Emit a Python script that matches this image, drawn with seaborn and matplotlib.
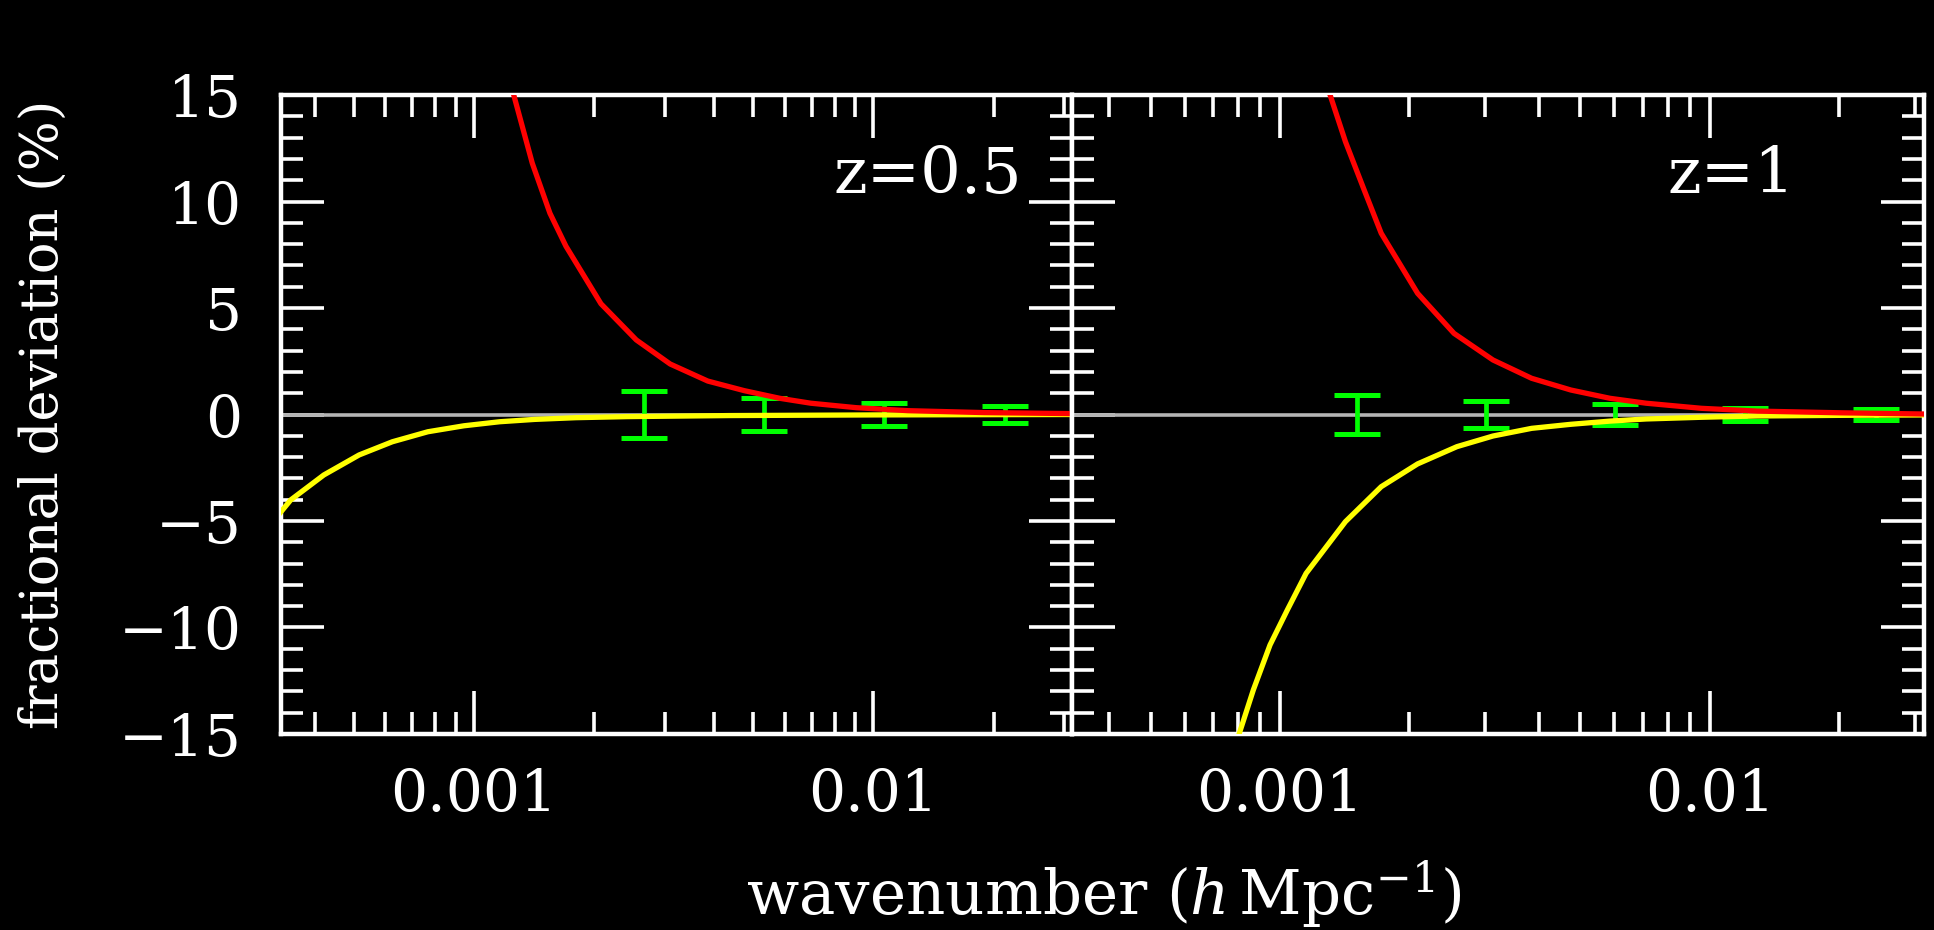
import numpy as np
import pandas as pd
import matplotlib
matplotlib.use('Agg')
import matplotlib.pyplot as plt
import seaborn as sns
from matplotlib.ticker import MultipleLocator, LogLocator, NullFormatter, FixedLocator, FixedFormatter

# z = 0.5 panel
k_red_05 = [0.00115, 0.00140, 0.00155, 0.00170, 0.00208, 0.00255, 0.00310, 0.00385,
            0.00475, 0.00583, 0.00697, 0.00906, 0.0122, 0.0189, 0.0320]
dev_red_05 = [17.7, 11.8, 9.45, 7.9, 5.2, 3.5, 2.37, 1.57, 1.12, 0.76, 0.53, 0.32, 0.18, 0.09, 0.04]
k_yel_05 = [0.000282, 0.000348, 0.000421, 0.000516, 0.000625, 0.000767, 0.000944, 0.00116,
            0.00142, 0.00180, 0.00242, 0.00436, 0.0100, 0.0320]
dev_yel_05 = [-6.1, -4.01, -2.84, -1.90, -1.28, -0.81, -0.53, -0.34, -0.23, -0.15, -0.10, -0.05, -0.02, 0.0]
k_err_05 = [0.00266, 0.00532, 0.0106, 0.0213]
dev_err_05 = [0.0, 0.0, 0.0, 0.0]
sig_err_05 = [1.12, 0.79, 0.55, 0.40]

# z = 1 panel
k_red_1 = [0.00120, 0.00142, 0.00157, 0.00172, 0.00209, 0.00254, 0.00313, 0.00385,
           0.00475, 0.00586, 0.00711, 0.00957, 0.0129, 0.0202, 0.0324]
dev_red_1 = [17.3, 12.81, 10.54, 8.51, 5.69, 3.81, 2.56, 1.70, 1.15, 0.76, 0.53, 0.29, 0.16, 0.08, 0.02]
k_yel_1 = [0.000780, 0.000867, 0.000948, 0.00104, 0.00115, 0.00142, 0.00172, 0.00209, 0.00258,
           0.00313, 0.00385, 0.00475, 0.00586, 0.00711, 0.00957, 0.0129, 0.0202, 0.0324]
dev_yel_1 = [-15.8, -12.93, -10.82, -9.18, -7.46, -5.03, -3.39, -2.32, -1.51, -1.01, -0.65,
             -0.46, -0.31, -0.21, -0.13, -0.07, -0.04, -0.02]
k_err_1 = [0.00151, 0.00301, 0.00603, 0.0121, 0.0243]
dev_err_1 = [0.0, 0.0, 0.0, 0.0, 0.0]
sig_err_1 = [0.90, 0.62, 0.47, 0.30, 0.25]

panel_labels = ['z=0.5', 'z=1']
xtick_vals = [0.001, 0.01]
xtick_labels = ['0.001', '0.01']

sns.set_style('dark', {'axes.facecolor': 'black', 'figure.facecolor': 'black',
                       'axes.edgecolor': 'white', 'text.color': 'white',
                       'xtick.color': 'white', 'ytick.color': 'white',
                       'axes.grid': False})
plt.rcParams['font.family'] = ['DejaVu Serif']
plt.rcParams['mathtext.fontset'] = 'dejavuserif'
plt.rcParams['axes.unicode_minus'] = True

fig, axes = plt.subplots(1, 2, figsize=(19.34, 9.30), dpi=100, sharey=True,
                         gridspec_kw=dict(width_ratios=[792, 852], wspace=0))
fig.subplots_adjust(left=0.1453, right=0.9948, top=0.8978, bottom=0.2108)

panels = [
    (k_red_05, dev_red_05, k_yel_05, dev_yel_05, k_err_05, dev_err_05, sig_err_05, 0.936),
    (k_red_1, dev_red_1, k_yel_1, dev_yel_1, k_err_1, dev_err_1, sig_err_1, 0.849),
]

for i, (ax, p) in enumerate(zip(axes, panels)):
    kr, dr, ky, dy, ke, de, se, xt = p
    ax.set_xscale('log')
    ax.set_facecolor('black')
    ax.axhline(0, color='#b4b4b4', lw=2.6, zorder=1)
    ax.errorbar(ke, de, yerr=se, fmt='none', ecolor='#00ff00', elinewidth=3.4,
                capsize=16.5, capthick=3.6, zorder=2)
    sns.lineplot(x=ky, y=dy, ax=ax, color='#ffff00', lw=3.8, sort=False, zorder=3)
    sns.lineplot(x=kr, y=dr, ax=ax, color='#ff0000', lw=3.8, sort=False, zorder=4)
    ax.set_xlim(3.29e-4, 0.0315)
    ax.set_ylim(-15, 15)
    ax.xaxis.set_major_locator(FixedLocator(xtick_vals))
    ax.xaxis.set_major_formatter(FixedFormatter(xtick_labels))
    ax.xaxis.set_minor_locator(LogLocator(base=10, subs=np.arange(2, 10)))
    ax.xaxis.set_minor_formatter(NullFormatter())
    ax.yaxis.set_major_locator(MultipleLocator(5))
    ax.yaxis.set_minor_locator(MultipleLocator(1))
    ax.tick_params(which='both', direction='in', top=True, right=True, left=True,
                   bottom=True, color='white', width=2.6)
    ax.tick_params(which='major', length=31, labelsize=42, pad=24)
    ax.tick_params(which='minor', length=16)
    ax.tick_params(axis='y', which='major', pad=28)
    if i == 1:
        ax.tick_params(axis='y', labelleft=False)
    for sp in ax.spines.values():
        sp.set_color('white')
        sp.set_linewidth(3.2)
        sp.set_visible(True)
    ax.set_xlabel('')
    ax.set_ylabel('')
    ax.text(xt, 0.847, panel_labels[i], transform=ax.transAxes, ha='right',
            va='baseline', fontsize=46, color='white')

fig.text(0.5708, 1 - 915 / 930, r'wavenumber ($h\,$Mpc$^{-1}$)', ha='center',
         va='baseline', fontsize=44, color='white')
fig.text(0.0222, 0.554, 'fractional deviation (%)', rotation=90, ha='center',
         va='center', fontsize=38, color='white')

fig.savefig('out.png', dpi=100, facecolor='black')
